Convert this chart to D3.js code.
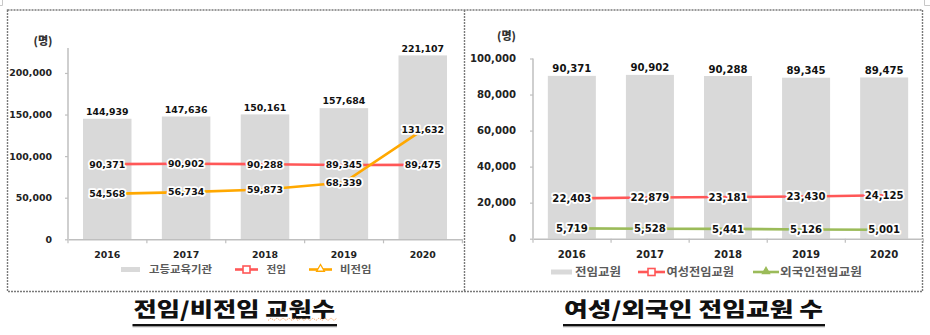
<!DOCTYPE html>
<html>
<head>
<meta charset="utf-8">
<script src="https://cdn.jsdelivr.net/npm/d3@7/dist/d3.min.js"></script>
<style>
  html, body { margin: 0; padding: 0; background: #fff; }
  svg { display: block; }
  .num { font-family: "DejaVu Sans", Verdana, sans-serif; font-weight: bold; fill: #111; }
  .kr { font-family: "Noto Sans CJK KR", sans-serif; }
</style>
</head>
<body>
<svg id="chart" width="930" height="335"></svg>
<script>
// Category labels
const years = ["2016", "2017", "2018", "2019", "2020"];

// Left panel: higher-education institutions, full-time and non-full-time faculty
const totalFaculty = [144939, 147636, 150161, 157684, 221107];
const fullTime = [90371, 90902, 90288, 89345, 89475];
const nonFullTime = [54568, 56734, 59873, 68339, 131632];
const leftTicks = [0, 50000, 100000, 150000, 200000];

// Right panel: full-time faculty, female and foreign full-time faculty
const fullTimeFaculty = [90371, 90902, 90288, 89345, 89475];
const femaleFullTime = [22403, 22879, 23181, 23430, 24125];
const foreignFullTime = [5719, 5528, 5441, 5126, 5001];
const rightTicks = [0, 20000, 40000, 60000, 80000, 100000];

// Legend and title texts
const leftLegend = ["고등교육기관", "전임", "비전임"];
const rightLegend = ["전임교원", "여성전임교원", "외국인전임교원"];
const titles = ["전임/비전임 교원수", "여성/외국인 전임교원 수"];
const unitLabel = "(명)";

const BAR = "#d9d9d9", RED = "#ff5757", ORANGE = "#ffa800", GREEN = "#9bbb59", AXIS = "#bfbfbf";
const fmt = d3.format(",");

const svg = d3.select("#chart");

// Dotted panel frame with a divider between the two charts
const frame = svg.append("g").attr("fill", "none").attr("stroke", "#7a7a7a")
  .attr("stroke-width", 1.4).attr("stroke-dasharray", "2,1");
frame.append("rect").attr("x", 7.5).attr("y", 10).attr("width", 915).attr("height", 281.5);
frame.append("line").attr("x1", 464.5).attr("x2", 464.5).attr("y1", 10).attr("y2", 291.5);

// little crop marks at the top corners
svg.append("path").attr("d", "M924.5,0V5.5H930").attr("fill", "none").attr("stroke", "#c8c8c8");
svg.append("path").attr("d", "M0,5.5H2.5V0").attr("fill", "none").attr("stroke", "#c8c8c8");

function panel(cfg) {
  const g = svg.append("g");
  const x = d3.scaleBand().domain(years).range(cfg.xRange).paddingInner(0.385).paddingOuter(0.19);
  const y = d3.scaleLinear().domain(cfg.yDomain).range(cfg.yRange);
  const cx = d => x(d) + x.bandwidth() / 2;

  // y axis
  const ya = g.append("g").attr("transform", `translate(${cfg.xRange[0]},0)`)
    .call(d3.axisLeft(y).tickValues(cfg.ticks).tickSize(3).tickSizeOuter(0).tickPadding(cfg.tickPad).tickFormat(fmt));
  ya.select(".domain").attr("stroke", AXIS).attr("stroke-width", 1.5)
    .attr("d", `M0,${cfg.yRange[0]}V${cfg.yTop}`);
  ya.selectAll(".tick line").attr("stroke", AXIS).attr("stroke-width", 1.2);
  ya.selectAll(".tick text").attr("class", "num").attr("font-size", cfg.fs).style("fill", "#222");

  // bars
  g.selectAll("rect.bar").data(cfg.bars).join("rect").attr("class", "bar")
    .attr("x", (d, i) => x(years[i])).attr("width", x.bandwidth())
    .attr("y", d => y(d)).attr("height", d => y(0) - y(d)).attr("fill", BAR);

  // x axis
  const xa = g.append("g").attr("transform", `translate(0,${cfg.yRange[0]})`)
    .call(d3.axisBottom(x).tickSize(0).tickSizeOuter(0).tickPadding(12));
  xa.select(".domain").attr("stroke", AXIS).attr("stroke-width", 1.5);
  xa.selectAll(".tick text").attr("class", "num").attr("font-size", cfg.fs).style("fill", "#222");
  // category boundary ticks
  xa.selectAll("line.sep").data(d3.range(years.length + 1)).join("line").attr("class", "sep")
    .attr("x1", i => cfg.xRange[0] + x.step() * i).attr("x2", i => cfg.xRange[0] + x.step() * i)
    .attr("y1", 0).attr("y2", 4).attr("stroke", AXIS).attr("stroke-width", 1.2);

  // bar value labels
  g.selectAll("text.barlab").data(cfg.bars).join("text").attr("class", "num barlab")
    .attr("x", (d, i) => cx(years[i])).attr("y", d => y(d) - 7).attr("dy", "0.35em")
    .attr("text-anchor", "middle").attr("font-size", cfg.fs).text(fmt);

  // lines + halo labels
  const line = d3.line().x((d, i) => cx(years[i])).y(d => y(d));
  cfg.lines.forEach(s => {
    g.append("path").datum(s.values).attr("d", line).attr("fill", "none")
      .attr("stroke", s.color).attr("stroke-width", 2.6);
  });
  cfg.lines.forEach(s => {
    g.selectAll(null).data(s.values).join("text").attr("class", "num")
      .attr("x", (d, i) => cx(years[i])).attr("y", d => y(d)).attr("dy", "0.36em")
      .attr("text-anchor", "middle").attr("font-size", cfg.fs)
      .attr("stroke", "#fff").attr("stroke-width", 3.6).attr("stroke-linejoin", "round")
      .attr("paint-order", "stroke").text(fmt);
  });

  // unit label
  g.append("text").attr("class", "kr").attr("x", cfg.unit[0]).attr("y", cfg.unit[1]).attr("dy", "0.35em")
    .attr("text-anchor", "middle").attr("font-size", 11).attr("font-weight", 900).attr("fill", "#333").text(unitLabel);

  // legend
  const lg = g.append("g");
  const ly = cfg.legendY;
  cfg.legend.forEach(it => {
    if (it.type === "bar") {
      lg.append("rect").attr("x", it.x0).attr("y", ly - 2.5).attr("width", it.x1 - it.x0).attr("height", 5).attr("fill", BAR);
    } else {
      lg.append("line").attr("x1", it.x0).attr("x2", it.x1).attr("y1", ly).attr("y2", ly)
        .attr("stroke", it.color).attr("stroke-width", 2.6);
      const m = (it.x0 + it.x1) / 2;
      if (it.type === "square") {
        lg.append("rect").attr("x", m - 3.5).attr("y", ly - 3.5).attr("width", 7).attr("height", 7)
          .attr("fill", "#fff").attr("stroke", it.color).attr("stroke-width", 1.6);
      } else {
        const tri = d3.symbol().type(d3.symbolTriangle).size(it.filled ? 22 : 26);
        lg.append("path").attr("d", tri()).attr("transform", `translate(${m},${ly - 0.5})`)
          .attr("fill", it.filled ? it.color : "#fff").attr("stroke", it.color).attr("stroke-width", 1.3);
      }
    }
    lg.append("text").attr("class", "kr").attr("x", it.tx).attr("y", ly).attr("dy", "0.36em")
      .attr("font-size", cfg.legendFs).attr("font-weight", 700).attr("fill", "#5a5a5a")
      .attr("textLength", it.tw).attr("lengthAdjust", "spacingAndGlyphs").text(it.label);
  });

  // panel title with shadowed underline
  const t = cfg.title;
  g.append("line").attr("x1", t.x0).attr("x2", t.x1).attr("y1", 326.5).attr("y2", 326.5)
    .attr("stroke", "#9a9a9a").attr("stroke-width", 1.5);
  g.append("line").attr("x1", t.x0).attr("x2", t.x1).attr("y1", 325).attr("y2", 325)
    .attr("stroke", "#111").attr("stroke-width", 1.8);
  g.append("text").attr("class", "kr").attr("x", t.x0 + 1).attr("y", 317)
    .attr("font-size", 20.5).attr("font-weight", 900).attr("fill", "#111")
    .attr("textLength", t.x1 - t.x0 - 3).attr("lengthAdjust", "spacingAndGlyphs").text(t.text);
  return g;
}

panel({
  xRange: [68, 462], yDomain: [0, 230000], yRange: [239.3, 48], yTop: 48,
  ticks: leftTicks, tickPad: 13, fs: 9.4,
  bars: totalFaculty,
  lines: [{ values: fullTime, color: RED }, { values: nonFullTime, color: ORANGE }],
  unit: [43, 41.5],
  legendY: 269.5, legendFs: 10.5,
  legend: [
    { type: "bar", x0: 121, x1: 140, tx: 149, tw: 63, label: leftLegend[0] },
    { type: "square", color: RED, x0: 235, x1: 258, tx: 266.5, tw: 19.5, label: leftLegend[1] },
    { type: "tri", color: ORANGE, x0: 309, x1: 332, tx: 340, tw: 31.5, label: leftLegend[2] }
  ],
  title: { x0: 132.5, x1: 337, text: titles[0] }
});

panel({
  xRange: [533, 923], yDomain: [0, 100000], yRange: [238.7, 58.5], yTop: 58.5,
  ticks: rightTicks, tickPad: 14, fs: 10.1,
  bars: fullTimeFaculty,
  lines: [{ values: femaleFullTime, color: RED }, { values: foreignFullTime, color: GREEN }],
  unit: [506.5, 36],
  legendY: 272, legendFs: 11,
  legend: [
    { type: "bar", x0: 551, x1: 572, tx: 575, tw: 46, label: rightLegend[0] },
    { type: "square", color: RED, x0: 638, x1: 665, tx: 666.5, tw: 67.5, label: rightLegend[1] },
    { type: "tri", color: GREEN, filled: true, x0: 753, x1: 779, tx: 780, tw: 82, label: rightLegend[2] }
  ],
  title: { x0: 563, x1: 825, text: titles[1] }
});

// spell-check squiggle under the left title
svg.append("path")
  .attr("d", d3.range(268, 338, 3).map((v, i) => `${i ? "L" : "M"}${v},${i % 2 ? 318 : 320.5}`).join(""))
  .attr("fill", "none").attr("stroke", "#f0a060").attr("stroke-width", 0.9).attr("stroke-dasharray", "1.5,1");
</script>
</body>
</html>
